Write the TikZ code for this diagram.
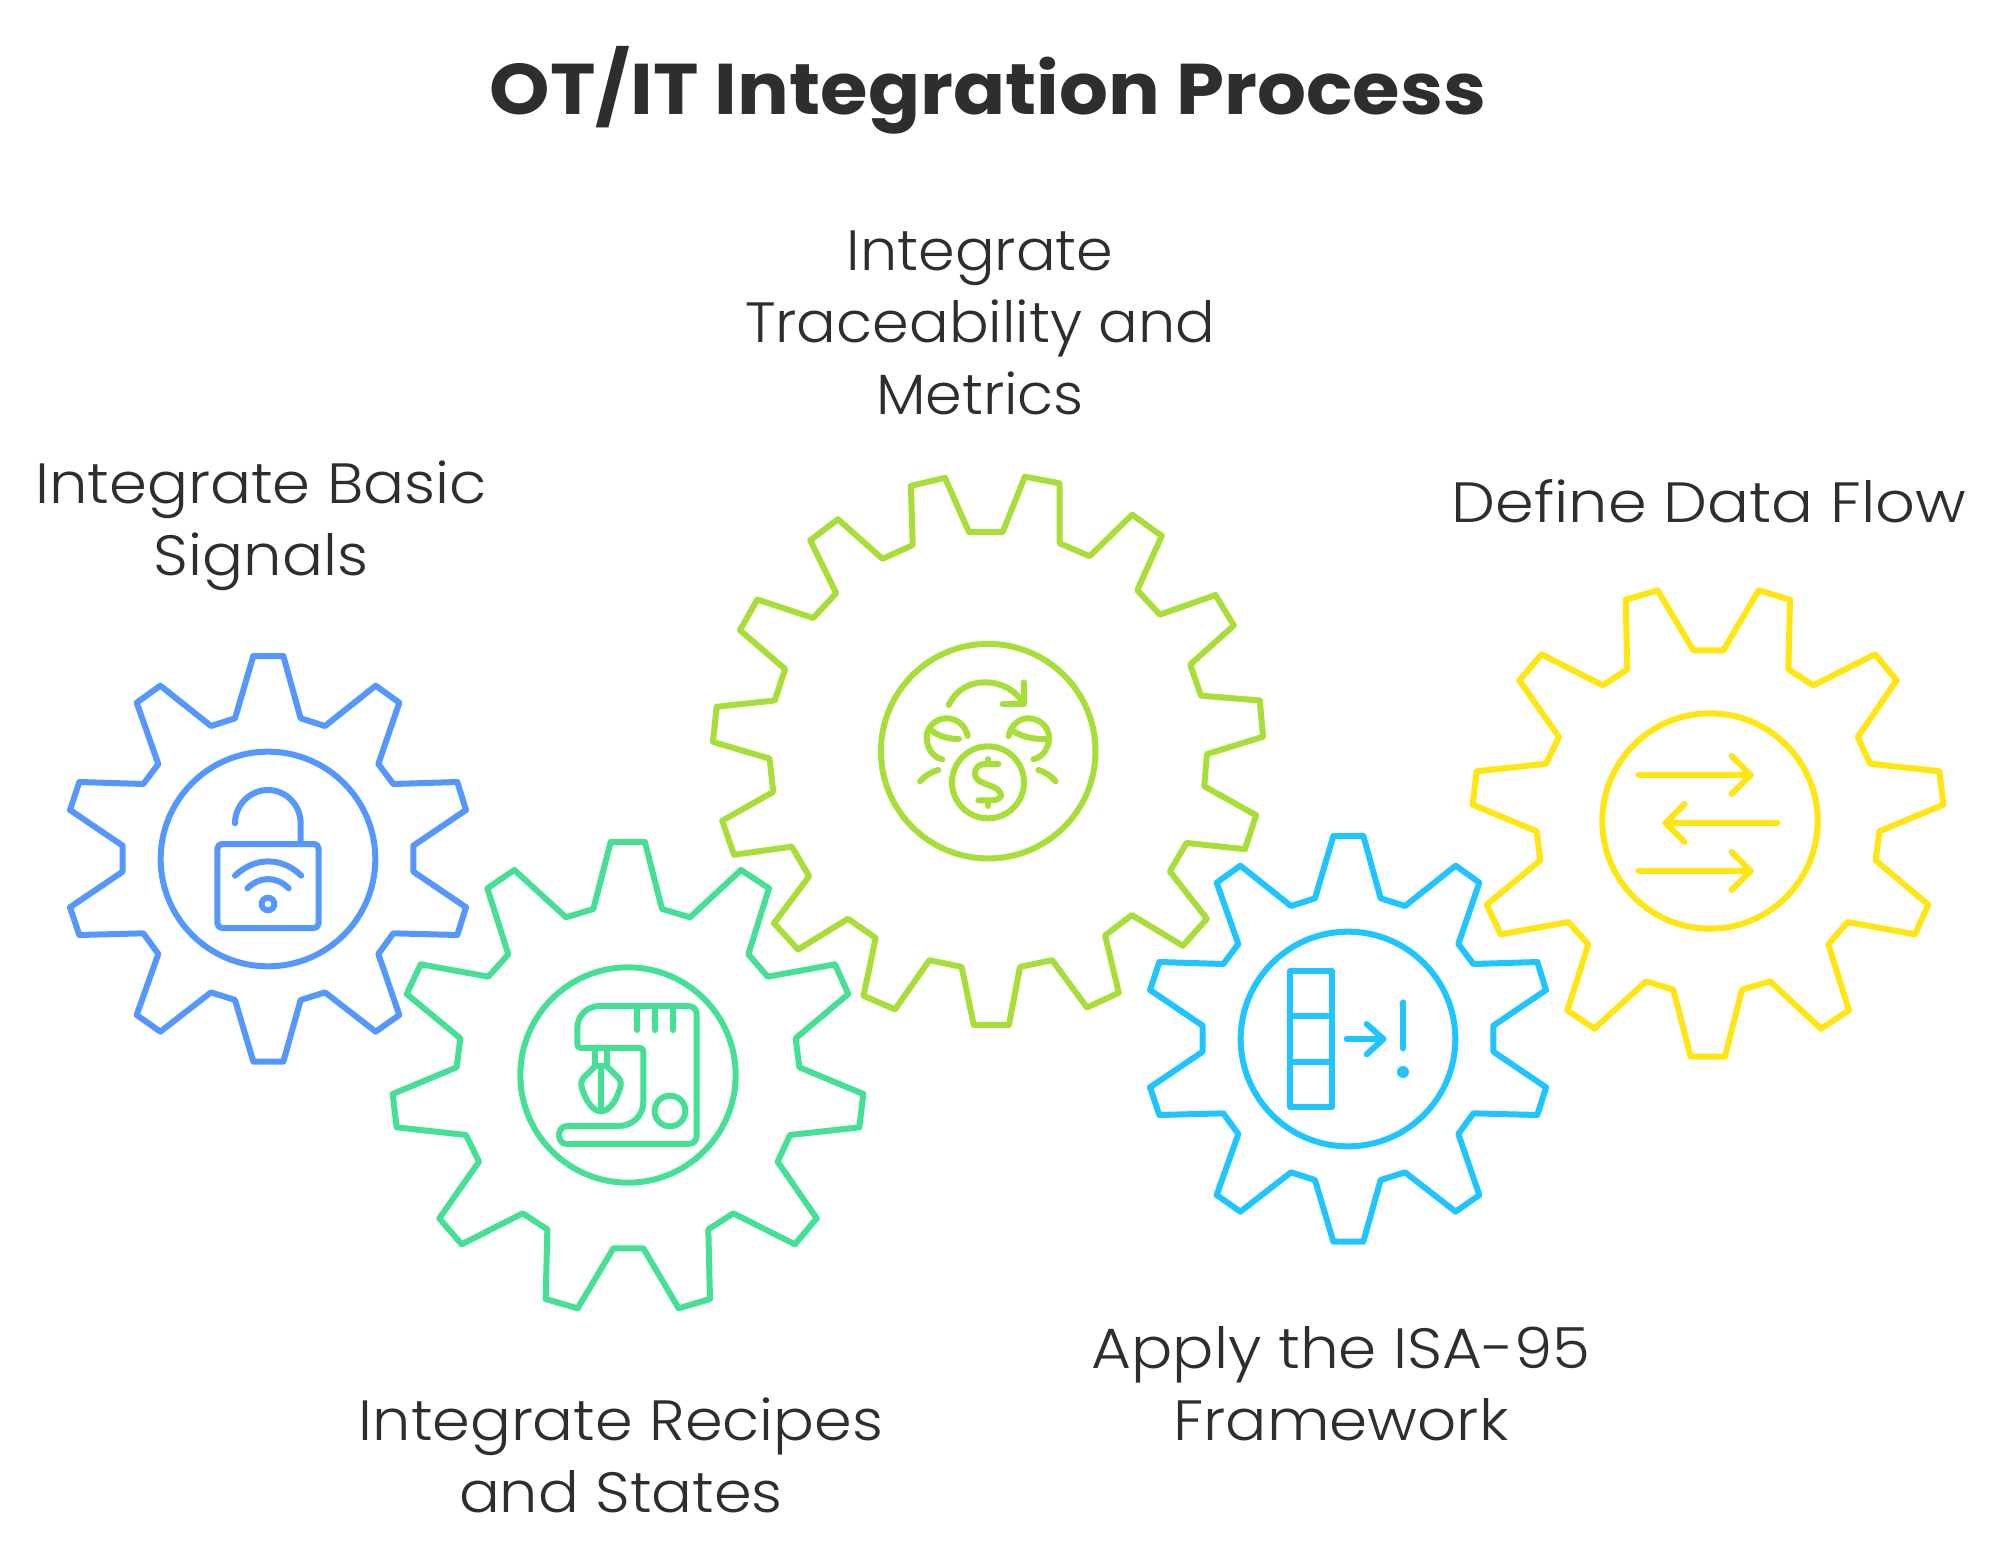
\documentclass[tikz,border=0pt]{standalone}
\usepackage{fontspec}
\setmainfont{Poppins}
\newfontfamily\lightfont[FakeStretch=1.095]{Poppins Light}
\newfontfamily\lightbasic[FakeStretch=1.071]{Poppins Light}
\newfontfamily\lighttrace[FakeStretch=1.036]{Poppins Light}
\newfontfamily\lightrecipes[FakeStretch=1.066]{Poppins Light}
\newfontfamily\lightisa[FakeStretch=1.078]{Poppins Light}
\newfontfamily\titlefont[FakeStretch=1.072]{Poppins Bold}
\definecolor{cblue}{HTML}{5497FF}
\definecolor{cgreen}{HTML}{45DF95}
\definecolor{clime}{HTML}{A7DE37}
\definecolor{ccyan}{HTML}{1EC5FF}
\definecolor{cyellow}{HTML}{FFE610}
\definecolor{ctext}{HTML}{2E2E2E}
\newcommand{\gearten}{(610,48)--(700,48)--(752,235)--(825,258)--(977,137)--(1048,188)--(985,372)--(1030,432)--(1222,426)--(1248,510)--(1090,617)--(1090,695)--(1248,802)--(1222,885)--(1030,880)--(985,942)--(1048,1125)--(977,1175)--(825,1057)--(752,1080)--(700,1265)--(610,1265)--(555,1080)--(483,1057)--(331,1175)--(260,1125)--(325,942)--(280,880)--(88,885)--(60,802)--(218,695)--(218,617)--(60,510)--(88,426)--(280,432)--(325,372)--(260,188)--(331,137)--(483,258)--(555,235)--cycle}
\newcommand{\gearelev}{(692,66)--(795,66)--(846,267)--(930,292)--(1083,150)--(1167,205)--(1105,403)--(1163,470)--(1365,433)--(1405,522)--(1247,655)--(1258,742)--(1450,822)--(1438,922)--(1230,945)--(1193,1025)--(1310,1195)--(1245,1273)--(1060,1180)--(985,1228)--(990,1437)--(896,1465)--(790,1285)--(700,1285)--(593,1465)--(497,1437)--(502,1228)--(428,1180)--(245,1273)--(178,1195)--(297,1025)--(258,945)--(50,922)--(38,822)--(230,742)--(241,655)--(80,522)--(122,433)--(325,470)--(385,403)--(322,205)--(403,150)--(558,292)--(640,267)--cycle}
\tikzset{
  x=1bp,y=-1bp,
  gearline/.style={line width=6bp,line join=round,line cap=round,draw=#1},
  zoomthree/.style={xscale=1/3,yscale=1/3},
  labeltext/.style={text=ctext,align=center,inner sep=0pt,font=#1\fontsize{57}{72}\selectfont},
}
\begin{document}
\begin{tikzpicture}
\useasboundingbox (0,0) rectangle (1991,1554);
\fill[white] (0,0) rectangle (1991,1554);

% blue gear
\begin{scope}[shift={(50,640)},zoomthree,gearline=cblue]
\draw \gearten;
\draw (654,657) circle[radius=322];
\draw[rounded corners=14bp/3] (502,612) rectangle (806,864);
\draw (555,550) .. controls (555,495) and (600,450) .. (654,450) .. controls (708,450) and (752,495) .. (752,550) -- (752,612);
\draw (555,707) .. controls (615,650) and (695,650) .. (754,707);
\draw (592,745) .. controls (630,708) and (680,708) .. (716,745);
\draw (654,792) circle[radius=19];
\end{scope}

% green gear
\begin{scope}[shift={(380,820)},zoomthree,gearline=cgreen]
\draw \gearelev;
\draw (744,765) circle[radius=323];
\draw (660,558) -- (925,558) .. controls (940,558) and (950,568) .. (950,583) -- (950,947) .. controls (950,962) and (940,972) .. (925,972) -- (560,972) .. controls (545,972) and (537,958) .. (537,945) .. controls (537,930) and (547,918) .. (562,918) -- (715,918) .. controls (760,918) and (790,885) .. (790,845) -- (790,695) .. controls (790,688) and (786,684) .. (780,684) -- (603,684) .. controls (596,684) and (592,680) .. (592,672) -- (592,625) .. controls (592,585) and (622,558) .. (660,558) -- cycle;
\draw (771,558) -- (771,630) (825,558) -- (825,630) (879,558) -- (879,630);
\draw (870,873) circle[radius=46];
\draw (644,684) -- (644,738) (682,684) -- (682,738) (644,737) -- (682,737) (663,737) -- (663,872);
\draw (644,740) -- (612,772) .. controls (603,781) and (602,792) .. (606,805) .. controls (618,845) and (640,874) .. (663,874) .. controls (686,874) and (708,845) .. (720,805) .. controls (724,792) and (723,781) .. (714,772) -- (682,740);
\end{scope}

% lime gear
\begin{scope}[shift={(700,460)},xscale=1/2.703,yscale=1/2.703,gearline=clime]
\draw (727,195)--(818,195)--(878,45)--(972,63)--(972,225)--(1053,260)--(1168,148)--(1248,205)--(1182,352)--(1243,418)--(1393,365)--(1443,447)--(1325,553)--(1354,637)--(1513,650)--(1522,748)--(1370,795)--(1363,882)--(1503,960)--(1473,1052)--(1315,1035)--(1270,1112)--(1370,1240)--(1305,1313)--(1167,1230)--(1095,1285)--(1132,1440)--(1046,1480)--(952,1352)--(865,1370)--(835,1527)--(740,1527)--(707,1370)--(620,1352)--(527,1485)--(442,1448)--(475,1292)--(400,1240)--(265,1323)--(200,1252)--(295,1125)--(248,1045)--(92,1067)--(60,975)--(198,897)--(188,807)--(35,762)--(45,667)--(202,650)--(230,565)--(108,460)--(155,377)--(306,427)--(368,360)--(298,217)--(373,160)--(493,267)--(575,230)--(570,70)--(662,48)--cycle;
\draw (779,787) circle[radius=290];
\end{scope}
\begin{scope}[shift={(900,665)},zoomthree,gearline=clime]
\draw (146,120) .. controls (170,72) and (210,52) .. (255,52) .. controls (305,52) and (345,75) .. (368,112);
\draw (372,52) -- (372,118) -- (308,118);
\draw (127,283) .. controls (100,277) and (80,250) .. (80,218) .. controls (80,185) and (108,160) .. (140,160) .. controls (172,160) and (197,183) .. (203,213);
\draw (95,197) .. controls (115,213) and (145,222) .. (177,222);
\draw (400,283) .. controls (427,277) and (447,250) .. (447,218) .. controls (447,185) and (418,160) .. (385,160) .. controls (355,160) and (332,183) .. (326,213);
\draw (337,197) .. controls (365,215) and (400,224) .. (445,222);
\draw (60,349) .. controls (75,332) and (95,320) .. (115,315);
\draw (415,315) .. controls (435,320) and (452,332) .. (467,349);
\draw (264,352) circle[radius=108];
\draw (295,297) -- (255,297) .. controls (235,297) and (225,310) .. (225,325) .. controls (225,340) and (235,348) .. (250,354) -- (280,366) .. controls (295,372) and (303,382) .. (303,392) .. controls (303,398) and (292,406) .. (275,406) -- (235,406);
\draw (264,282) -- (264,297) (264,406) -- (264,423);
\end{scope}

% cyan gear
\begin{scope}[shift={(1130,820)},zoomthree,gearline=ccyan]
\draw \gearten;
\draw (654,657) circle[radius=322];
\draw (480,454) rectangle (606,860);
\draw (480,588) -- (606,588) (480,725) -- (606,725);
\draw (650,657) -- (760,657);
\draw (710,612) -- (760,657) -- (710,703);
\draw (819,547) -- (819,685);
\fill[ccyan] (819,756) circle[radius=18];
\end{scope}

% yellow gear
\begin{scope}[shift={(1460,1078.67)},xscale=1/3,yscale=-1/3,gearline=cyellow]
\draw \gearelev;
\end{scope}
\begin{scope}[shift={(1460,570)},zoomthree,gearline=cyellow]
\draw (750,753) circle[radius=323];
\draw (535,615) -- (872,615);
\draw (815,558) -- (872,615) -- (815,672);
\draw (952,759) -- (617,759);
\draw (674,702) -- (617,759) -- (674,816);
\draw (535,903) -- (872,903);
\draw (815,846) -- (872,903) -- (815,960);
\end{scope}

% texts
\node[text=ctext,inner sep=0pt,font=\titlefont\fontsize{72}{80}\selectfont] (title) at (988,90) {OT/IT Integration Process};
\node[labeltext=\lightbasic] (lbasic) at (261,526) {Integrate Basic\\Signals};
\node[labeltext=\lighttrace] (ltrace) at (980,323) {Integrate\\Traceability and\\Metrics};
\node[labeltext=\lightfont] (lflow) at (1709,501) {Define Data Flow};
\node[labeltext=\lightrecipes] (lrecipes) at (621,1455) {Integrate Recipes\\and States};
\node[labeltext=\lightisa] (lisa) at (1341,1384) {Apply the ISA-95\\Framework};
\end{tikzpicture}
\end{document}
